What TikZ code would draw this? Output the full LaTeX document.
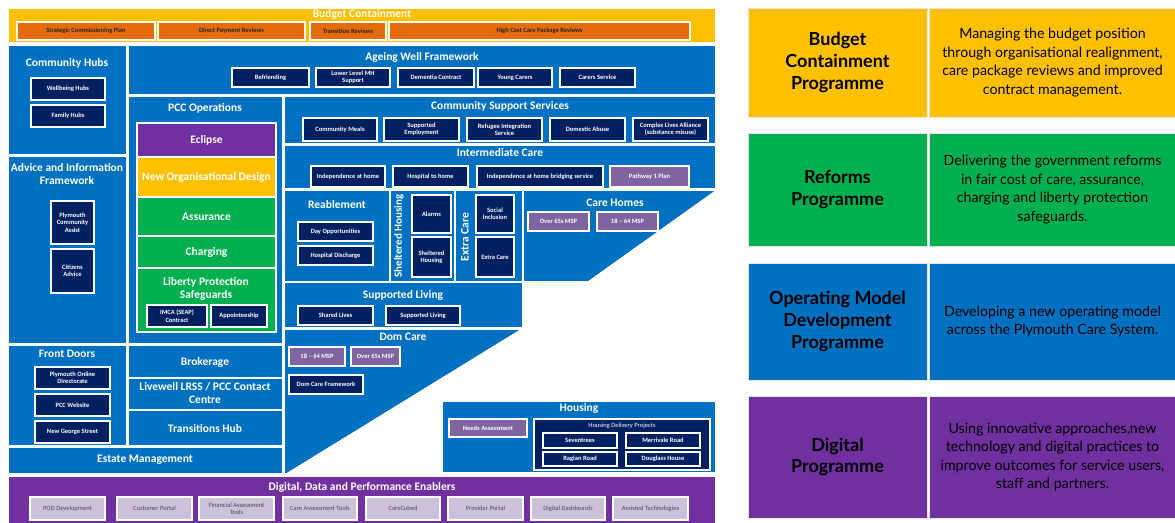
\documentclass[tikz,border=0pt]{standalone}
\usepackage{fontspec}
\setmainfont{Carlito}
\newfontfamily\gill{Lato}
\definecolor{cyel}{HTML}{FFC000}
\definecolor{corg}{HTML}{E46C0A}
\definecolor{cblu}{HTML}{0070C0}
\definecolor{cnav}{HTML}{002060}
\definecolor{cpur}{HTML}{7030A0}
\definecolor{cgrn}{HTML}{00B050}
\definecolor{clpu}{HTML}{8064A2}
\definecolor{clav}{HTML}{CCC0DA}
\newcommand\bx[7]{\node[#2, minimum width={(#5)-(#3)}, minimum height={(#6)-(#4)}] (#1) at ({((#3)+(#5))/2},{((#4)+(#6))/2}) {#7};}
\begin{document}
\begin{tikzpicture}[x=1pt,y=-1pt,
  region/.style={rectangle,fill=cblu,draw=white,line width=1.5pt,inner sep=0pt,outer sep=0pt},
  ttl/.style={text=white,font=\bfseries\fontsize{11.5}{12.5}\selectfont,align=center,inner sep=0pt},
  sbox/.style={rectangle,draw=white,line width=1.1pt,inner sep=0pt,outer sep=0pt,align=center,font=\bfseries\fontsize{6.5}{7.4}\selectfont},
  nav/.style={sbox,fill=cnav,text=white},
  org/.style={sbox,fill=corg,text=black!85},
  lpu/.style={sbox,fill=clpu,text=white},
  lav/.style={sbox,fill=clav,text=black!70,font=\fontsize{6.5}{7.4}\selectfont},
  stack/.style={rectangle,draw=white,line width=1.5pt,inner sep=0pt,outer sep=0pt,align=center,text=white,font=\bfseries\fontsize{11.5}{12.5}\selectfont},
  cell/.style={rectangle,draw=white!80!gray,line width=0.6pt,inner sep=0pt,outer sep=0pt,align=center,text=black},
  hd/.style={cell,font=\gill\bfseries\fontsize{18}{21.7}\selectfont},
  ds/.style={cell,font=\gill\fontsize{14.2}{18.5}\selectfont},
]
\clip (0,0) rectangle (1175,522);
\fill[white] (0,0) rectangle (1175,522);

% Budget containment bar
\bx{bc}{region,fill=cyel}{8}{8}{716}{43}{}
\node[ttl] (bct) at (362,14) {Budget Containment};
\bx{scp}{org}{17}{22}{155}{40}{Strategic Commissioning Plan}
\bx{dpr}{org}{158}{22}{305}{40}{Direct Payment Reviews}
\bx{trv}{org}{310}{22}{386}{40}{Transition Reviews}
\bx{hcc}{org}{389}{22}{690}{40}{High Cost Care Package Reviews}

% Left column
\bx{ch}{region}{8}{45}{127}{155}{}
\node[ttl] (cht) at (67,63) {Community Hubs};
\bx{wh}{nav}{31}{78}{105}{100}{Wellbeing Hubs}
\bx{fh}{nav}{31}{105}{105}{127}{Family Hubs}

\bx{aif}{region}{8}{156}{127}{344}{}
\node[ttl] (aift) at (67,174) {Advice and Information\\Framework};
\bx{pca}{nav}{51}{201}{94}{244}{Plymouth\\Community\\Assist}
\bx{cia}{nav}{51}{249}{94}{293}{Citizens\\Advice}

\bx{fd}{region}{8}{345}{127}{446}{}
\node[ttl] (fdt) at (67,354) {Front Doors};
\bx{pod}{nav}{35}{367}{110}{389}{Plymouth Online\\Directorate}
\bx{pcw}{nav}{35}{394}{110}{416}{PCC Website}
\bx{ngs}{nav}{35}{421}{110}{443}{New George Street}

\bx{em}{region}{8}{447}{283}{474}{}
\node[ttl] (emt) at (145,460) {Estate Management};

% Ageing well
\bx{aw}{region}{128}{45}{716}{95}{}
\node[ttl] (awt) at (422,57) {Ageing Well Framework};
\bx{bef}{nav}{232}{68}{309}{87}{Befriending}
\bx{llm}{nav}{316}{68}{390}{87}{Lower Level MH\\Support}
\bx{dem}{nav}{398}{68}{474}{87}{Dementia Contract}
\bx{yc}{nav}{478}{68}{552}{87}{Young Carers}
\bx{cs}{nav}{560}{68}{635}{87}{Carers Service}

% PCC operations
\bx{pcc}{region}{128}{96}{283}{344}{}
\node[ttl] (pcct) at (205,108) {PCC Operations};
\bx{ecl}{stack,fill=cpur}{137}{123}{276}{157}{Eclipse}
\bx{nod}{stack,fill=cyel}{137}{157}{276}{197}{New Organisational Design}
\bx{asr}{stack,fill=cgrn}{137}{197}{276}{236}{Assurance}
\bx{chg}{stack,fill=cgrn}{137}{236}{276}{268}{Charging}
\bx{lps}{stack,fill=cgrn}{137}{268}{276}{332}{}
\node[ttl] (lpst) at (206,289) {Liberty Protection\\Safeguards};
\bx{imca}{nav}{147}{305}{207}{327}{IMCA (SEAP)\\Contract}
\bx{app}{nav}{211}{305}{267}{327}{Appointeeship}

\bx{br}{region}{128}{345}{283}{378}{}
\node[ttl] (brt) at (205,362) {Brokerage};
\bx{lw}{region}{128}{378}{283}{410}{}
\node[ttl] (lwt) at (205,393) {Livewell LRSS / PCC Contact\\Centre};
\bx{th}{region}{128}{410}{283}{446}{}
\node[ttl] (tht) at (205,428) {Transitions Hub};

% Community support services
\bx{css}{region}{284}{96}{716}{144}{}
\node[ttl] (csst) at (500,106) {Community Support Services};
\bx{cm}{nav}{303}{118}{377}{141}{Community Meals}
\bx{se}{nav}{384}{118}{459}{141}{Supported\\Employment}
\bx{ris}{nav}{467}{118}{542}{141}{Refugee Integration\\Service}
\bx{da}{nav}{550}{118}{625}{141}{Domestic Abuse}
\bx{cla}{nav}{633}{118}{708}{141}{Complex Lives Alliance\\(substance misuse)}

% Intermediate care
\bx{ic}{region}{284}{145}{716}{189}{}
\node[ttl] (ict) at (500,153) {Intermediate Care};
\bx{iah}{nav}{311}{166}{385}{187}{Independence at home}
\bx{hth}{nav}{393}{166}{468}{187}{Hospital to home}
\bx{iab}{nav}{477}{166}{603}{187}{Independence at home bridging service}
\bx{p1p}{lpu}{610}{166}{689}{187}{Pathway 1 Plan}

% Reablement, sheltered, extra care, care homes
\bx{re}{region}{284}{190}{390}{282}{}
\node[ttl] (ret) at (337,205) {Reablement};
\bx{dop}{nav}{298}{222}{373}{241}{Day Opportunities}
\bx{hdi}{nav}{298}{246}{373}{265}{Hospital Discharge}

\bx{sh}{region}{390}{190}{455}{282}{}
\node[ttl,rotate=90,font=\bfseries\fontsize{11}{12}\selectfont] (sht) at (399,236) {Sheltered Housing};
\bx{al}{nav}{412}{195}{451}{233}{Alarms}
\bx{shb}{nav}{412}{237}{451}{277}{Sheltered\\Housing}

\bx{ec}{region}{455}{190}{523}{282}{}
\node[ttl,rotate=90] (ect) at (465,237) {Extra Care};
\bx{si}{nav}{476}{195}{514}{233}{Social\\Inclusion}
\bx{ecb}{nav}{476}{237}{514}{277}{Extra Care}

\bx{chm}{region}{523}{190}{716}{282}{}

\bx{sl}{region}{284}{282}{523}{328}{}
\node[ttl] (slt) at (403,295) {Supported Living};
\bx{shl}{nav}{298}{306}{373}{325}{Shared Lives}
\bx{slb}{nav}{386}{306}{460}{325}{Supported Living}

\bx{dc}{region}{284}{329}{716}{474}{}

% white cut
\fill[white] (718,188.5) -- (521,329) -- (283.5,475) -- (718,475) -- cycle;

\node[ttl] (cht2) at (615,203) {Care Homes};
\bx{o65}{lpu}{528}{212}{589}{231}{Over 65s MSP}
\bx{m1864}{lpu}{597}{212}{658}{231}{18 -- 64 MSP}

\node[ttl] (dct) at (403,337) {Dom Care};
\bx{d1864}{lpu}{289}{347}{345}{366}{18 -- 64 MSP}
\bx{do65}{lpu}{351}{347}{400}{366}{Over 65s MSP}
\bx{dcf}{nav}{289}{375}{363}{394}{Dom Care Framework}

% Housing
\bx{hs}{region}{442}{401}{716}{473}{}
\node[ttl] (hst) at (579,408) {Housing};
\bx{na}{lpu}{449}{419}{527}{437}{Needs Assessment}
\bx{hdp}{nav}{534}{419}{710}{470}{}
\node[text=white,font=\fontsize{6.5}{7.4}\selectfont,inner sep=0pt] (hdpt) at (622,426) {Housing Delivery Projects};
\bx{sev}{nav}{543}{433}{617}{448}{Seventrees}
\bx{mer}{nav}{626}{433}{700}{448}{Merrivale Road}
\bx{rag}{nav}{543}{452}{617}{466}{Raglan Road}
\bx{dou}{nav}{626}{452}{700}{466}{Douglass House}

% Digital bar
\bx{dd}{region,fill=cpur}{8}{476}{716}{530}{}
\node[ttl] (ddt) at (362,487) {Digital, Data and Performance Enablers};
\bx{l1}{lav}{30}{497}{105}{520}{POD Development}
\bx{l2}{lav}{117}{497}{192}{520}{Customer Portal}
\bx{l3}{lav}{199}{497}{274}{520}{Financial Assessment\\Tools}
\bx{l4}{lav}{283}{497}{357}{520}{Care Assessment Tools}
\bx{l5}{lav}{366}{497}{440}{520}{CareCubed}
\bx{l6}{lav}{448}{497}{523}{520}{Provider Portal}
\bx{l7}{lav}{531}{497}{605}{520}{Digital Dashboards}
\bx{l8}{lav}{613}{497}{688}{520}{Assisted Technologies}

% Right panel
\bx{p1}{hd,fill=cyel}{748}{8}{927}{117}{Budget\\Containment\\Programme}
\bx{q1}{ds,fill=cyel}{929}{8}{1176}{117}{Managing the budget position\\through organisational realignment,\\care package reviews and improved\\contract management.}
\bx{p2}{hd,fill=cgrn}{748}{133}{927}{246}{Reforms\\Programme}
\bx{q2}{ds,fill=cgrn}{929}{133}{1176}{246}{Delivering the government reforms\\in fair cost of care, assurance,\\charging and liberty protection\\safeguards.}
\bx{p3}{hd,fill=cblu}{748}{263}{927}{380}{Operating Model\\Development\\Programme}
\bx{q3}{ds,fill=cblu}{929}{263}{1176}{380}{Developing a new operating model\\across the Plymouth Care System.}
\bx{p4}{hd,fill=cpur}{748}{396}{927}{518}{Digital\\Programme}
\bx{q4}{ds,fill=cpur}{929}{396}{1176}{518}{Using innovative approaches,new\\technology and digital practices to\\improve outcomes for service users,\\staff and partners.}
\end{tikzpicture}
\end{document}
